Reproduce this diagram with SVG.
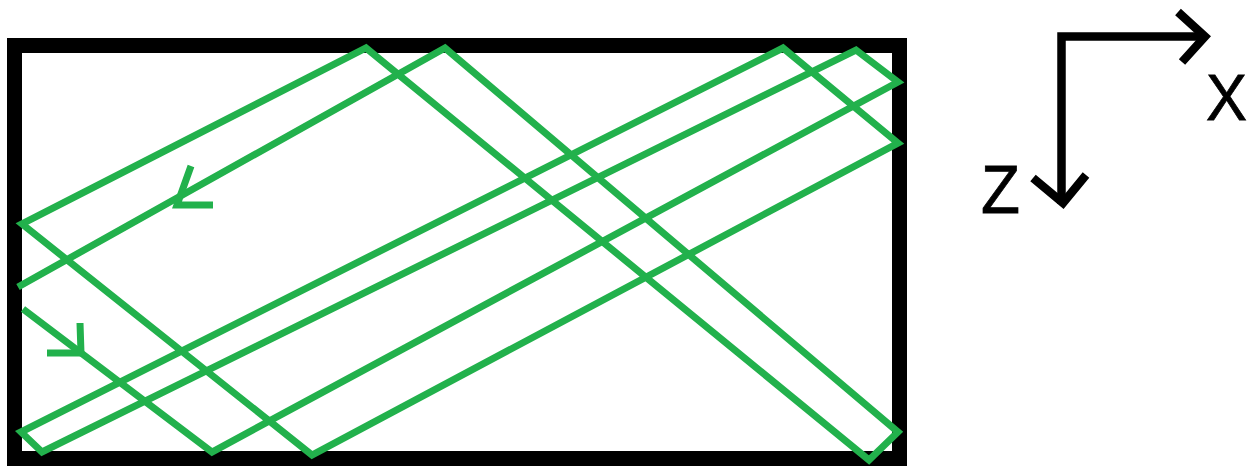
<svg xmlns="http://www.w3.org/2000/svg" width="1255" height="466" viewBox="0 0 1255 466">
<style>
.frame{fill:none;stroke:#000;stroke-width:15}
.path{fill:none;stroke:#22B14C;stroke-width:7;stroke-linejoin:miter;stroke-linecap:butt}
.axis{fill:none;stroke:#000;stroke-width:8.5;stroke-linejoin:miter}
.lbl{font-family:"Liberation Sans",Arial,sans-serif;fill:#000;stroke:#000;stroke-width:0.8}
</style>
<rect width="1255" height="466" fill="#fff"/>
<g id="frame">
<rect class="frame" x="14.5" y="45.5" width="885" height="413"/>
</g>
<g id="connectors">
<polyline class="path" points="23,309 212,452 898,82 856,50 42,452 21,432 783,48 898,143 312,455 22,224 366,48 869,460 898,432 445,48 18,287"/>
<polyline class="path" points="191,166 177,205 213,205"/>
<polyline class="path" points="80,323 81,353 47,353"/>
</g>
<g id="axes">
<polyline class="axis" points="1206,36.5 1061.5,36.5 1061.5,204"/>
<polyline class="axis" points="1178,12 1205,36.5 1182,62"/>
<polyline class="axis" points="1033,178 1063,203 1086,175"/>
</g>
<g id="label-x">
<text class="lbl" x="1206" y="120" font-size="65" textLength="41" lengthAdjust="spacingAndGlyphs">X</text>
</g>
<g id="label-z">
<text class="lbl" x="981" y="213" font-size="69" textLength="39" lengthAdjust="spacingAndGlyphs">Z</text>
</g>
</svg>
